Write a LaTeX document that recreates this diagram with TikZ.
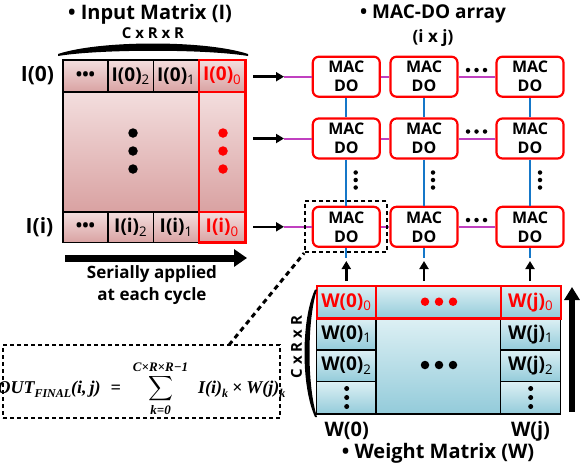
\documentclass[tikz,border=0pt]{standalone}
\usepackage{amsmath}
\usepackage{fontspec}
\setmainfont{Open Sans}
\newfontfamily\fmf{Liberation Serif}
\usetikzlibrary{arrows.meta,calc}
\definecolor{pinkT}{HTML}{F3DEDE}
\definecolor{pinkB}{HTML}{D9A2A2}
\definecolor{blueT}{HTML}{DDF0F4}
\definecolor{blueB}{HTML}{93CBDA}
\definecolor{macred}{HTML}{FF0000}
\definecolor{magline}{HTML}{C040C0}
\definecolor{blueline}{HTML}{1577C8}
\newcommand{\fs}[1]{\fontsize{#1}{#1}\selectfont}
\newcommand{\sbs}[1]{\textsubscript{\mdseries #1}}
\newcommand{\fbi}{\fmf\bfseries\itshape}
\newcommand{\lowsub}[1]{\raisebox{-4pt}{\fs{12}#1}}
\newsavebox{\fmlbox}
\tikzset{
  cellbase/.style={rectangle, line width=1.3pt, inner sep=0pt, outer sep=0pt, font=\bfseries\fs{19}},
  pinkcell/.style={cellbase, draw=black, top color=pinkT, bottom color=pinkB},
  bluecell/.style={cellbase, draw=black, top color=blueT, bottom color=blueB},
  redframe/.style={draw=macred, line width=2.4pt},
  mac/.style={rectangle, draw=macred, line width=2.2pt, rounded corners=6pt, fill=white,
     minimum width=67pt, minimum height=40pt, inner sep=0pt, align=center,
     font=\bfseries\fs{16}},
  rowarrow/.style={line width=2.6pt, -{Triangle[length=8pt,width=9pt]}},
  uparrow/.style={line width=2.6pt, -{Triangle[length=8pt,width=9pt]}},
  magwire/.style={magline, line width=2pt},
  bluewire/.style={blueline, line width=2pt},
  lbl/.style={font=\bfseries\fs{21}, inner sep=0pt},
  ttl/.style={font=\bfseries\fs{20}, inner sep=0pt},
  dashbox/.style={draw=black, line width=2.2pt, dash pattern=on 4pt off 3pt},
  bigdot/.style={circle, fill=#1, inner sep=0pt, minimum size=9.5pt},
  smalldot/.style={circle, fill=black, inner sep=0pt, minimum size=4.5pt},
}
\begin{document}
\sbox{\fmlbox}{\fbi\fs{18}OUT\lowsub{FINAL}(i,\,j)\hspace{10pt}=\hspace{12pt}$\displaystyle\sum_{\mbox{\fbi\fs{13}k=0}}^{\mbox{\fbi\fs{13}C×R×R−1}}$\hspace{10pt}I(i)\lowsub{k}\hspace{4pt}×\hspace{4pt}W(j)\lowsub{k}}%
\begin{tikzpicture}[x=1pt,y=-1pt]
\useasboundingbox (0,0) rectangle (581,469);

% ---------- Input matrix ----------
\node[ttl] (ttlI) at (150,14) {• Input Matrix (I)};
\node[font=\bfseries\fs{15}, inner sep=0pt] (cI) at (153,33) {C x R x R};
\fill (58,54) .. controls (100,40) and (206,40) .. (248,54)
      -- (248,56) .. controls (206,49) and (100,49) .. (58,56) -- cycle;

\node[pinkcell, minimum width=182.5pt, minimum height=120pt] (Imid) at (154.25,152) {};
\node[pinkcell, minimum width=45pt, minimum height=32pt] (I03) at (85.5,76) {\fs{17}•••};
\node[pinkcell, minimum width=45.5pt, minimum height=32pt] (I02) at (130.75,76) {I(0)\sbs{2}};
\node[pinkcell, minimum width=45.5pt, minimum height=32pt] (I01) at (176.25,76) {I(0)\sbs{1}};
\node[pinkcell, minimum width=45pt, minimum height=30.5pt] (Ii3) at (85.5,227.25) {\fs{17}•••};
\node[pinkcell, minimum width=45.5pt, minimum height=30.5pt] (Ii2) at (130.75,227.25) {I(i)\sbs{2}};
\node[pinkcell, minimum width=45.5pt, minimum height=30.5pt] (Ii1) at (176.25,227.25) {I(i)\sbs{1}};
\node[pinkcell, redframe, minimum width=46.5pt, minimum height=32pt, text=macred] (I00) at (222.25,76) {I(0)\sbs{0}};
\node[redframe, rectangle, minimum width=46.5pt, minimum height=120pt, inner sep=0pt] (Icol) at (222.25,152) {};
\node[pinkcell, redframe, minimum width=46.5pt, minimum height=30.5pt, text=macred] (Ii0) at (222.25,227.25) {I(i)\sbs{0}};
\foreach \yy in {133,151,169} {
  \node[bigdot=black] at (133,\yy) {};
  \node[bigdot=macred] at (223,\yy) {};
}
\node[lbl] (L0) at (37.5,76) {I(0)};
\node[lbl] (Li) at (39.5,227) {I(i)};

% serial arrow
\coordinate (sa) at (65,258);
\coordinate (sb) at (247,258);
\draw[line width=7pt, -{Triangle[length=13pt,width=17pt]}] (sa) -- (sb);
\node[font=\bfseries\fs{17}, align=center, inner sep=0pt] (serial) at (152,285)
   {Serially applied\\[5pt]at each cycle};

% ---------- MAC-DO array ----------
\node[font=\bfseries\fs{19}, inner sep=0pt] (ttlM) at (433,14) {• MAC-DO array};
\node[font=\bfseries\fs{17}, inner sep=0pt] (ij) at (433,38) {(i x j)};

\foreach \ri/\yy in {1/76.7,2/138.5,3/226.8} {
  \foreach \ci/\xx in {1/346.3,2/424,3/530} {
    \node[mac] (m\ri\ci) at (\xx,\yy) {MAC\\[3pt]DO};
  }
  \coordinate (as\ri) at (253,\yy);
  \coordinate (ae\ri) at (284,\yy);
  \draw[magwire] (ae\ri) -- (m\ri1.west);
  \draw[magwire] (m\ri1.east) -- (m\ri2.west);
  \draw[magwire] (m\ri2.east) -- (m\ri3.west);
  \draw[rowarrow] (as\ri) -- (ae\ri);
}
% horizontal dots
\foreach \yy in {70,131.5,220} {
  \foreach \xx in {468,476.5,485} { \node[smalldot] at (\xx,\yy) {}; }
}
% vertical wires
\foreach \ci/\xx in {1/346.3,2/424,3/530} {
  \draw[bluewire] (m1\ci.south) -- (m2\ci.north);
  \draw[bluewire] (m2\ci.south) -- (m3\ci.north);
  \coordinate (bw\ci) at (\xx,258);
  \draw[bluewire] (m3\ci.south) -- (bw\ci);
  \coordinate (ub\ci) at (\xx,281);
  \coordinate (ut\ci) at (\xx,261);
  \draw[uparrow] (ub\ci) -- (ut\ci);
}
\foreach \xx in {355.7,433,540} {
  \foreach \yy in {172.5,180,187.5} { \node[smalldot] at (\xx,\yy) {}; }
}

% dashed highlight
\node[dashbox, rectangle, minimum width=81.5pt, minimum height=51pt, inner sep=0pt] (hl) at (346,226.5) {};

% ---------- Formula ----------
\node[dashbox, rectangle, minimum width=277pt, minimum height=73pt, inner sep=0pt] (fbox) at (141.5,381.5) {};
\node[inner sep=0pt, anchor=base] (fml) at (141.5,393) {\usebox{\fmlbox}};
\coordinate (fc) at (229,345);
\draw[line width=3pt, dash pattern=on 5pt off 4pt] (fc) -- (hl.south west);

% ---------- Weight matrix ----------
\node[bluecell, minimum width=124.7pt, minimum height=95.7pt] (Wmid) at (438.35,366.15) {};
\node[bluecell, minimum width=59.3pt, minimum height=31.7pt] (W01) at (346.35,334.15) {W(0)\sbs{1}};
\node[bluecell, minimum width=59.3pt, minimum height=31.7pt] (W02) at (346.35,365.85) {W(0)\sbs{2}};
\node[bluecell, minimum width=59.3pt, minimum height=32.3pt] (W03) at (346.35,397.85) {};
\node[bluecell, minimum width=60pt, minimum height=31.7pt] (Wj1) at (530.7,334.15) {W(j)\sbs{1}};
\node[bluecell, minimum width=60pt, minimum height=31.7pt] (Wj2) at (530.7,365.85) {W(j)\sbs{2}};
\node[bluecell, minimum width=60pt, minimum height=32.3pt] (Wj3) at (530.7,397.85) {};
\node[bluecell, redframe, minimum width=59.3pt, minimum height=32.3pt, text=macred] (W00) at (346.35,302.15) {W(0)\sbs{0}};
\node[bluecell, redframe, minimum width=124.7pt, minimum height=32.3pt] (Wm0) at (438.35,302.15) {};
\node[bluecell, redframe, minimum width=60pt, minimum height=32.3pt, text=macred] (Wj0) at (530.7,302.15) {W(j)\sbs{0}};
\foreach \xx in {425,439,453} {
  \node[bigdot=macred, minimum size=8.5pt] at (\xx,301.7) {};
  \node[bigdot=black, minimum size=8.5pt] at (\xx,365) {};
}
\foreach \xx in {346.7,530.7} {
  \foreach \yy in {388.5,397.5,406.5} { \node[circle, fill=black, inner sep=0pt, minimum size=5pt] at (\xx,\yy) {}; }
}
\fill (315,289.5) .. controls (301,320) and (301,386) .. (315,417)
      -- (317,417) .. controls (307,386) and (307,320) .. (317,289.5) -- cycle;
\node[font=\bfseries\fs{15}, inner sep=0pt, rotate=90] (cW) at (296.5,347) {C x R x R};
\coordinate (ra) at (572,412);
\coordinate (rb) at (572,287);
\draw[line width=6pt, -{Triangle[length=13pt,width=15pt]}] (ra) -- (rb);
\node[font=\bfseries\fs{20}, inner sep=0pt] (lW0) at (346.7,431) {W(0)};
\node[font=\bfseries\fs{20}, inner sep=0pt] (lWj) at (530.5,431) {W(j)};
\node[ttl] (ttlW) at (438,453) {• Weight Matrix (W)};
\end{tikzpicture}
\end{document}
